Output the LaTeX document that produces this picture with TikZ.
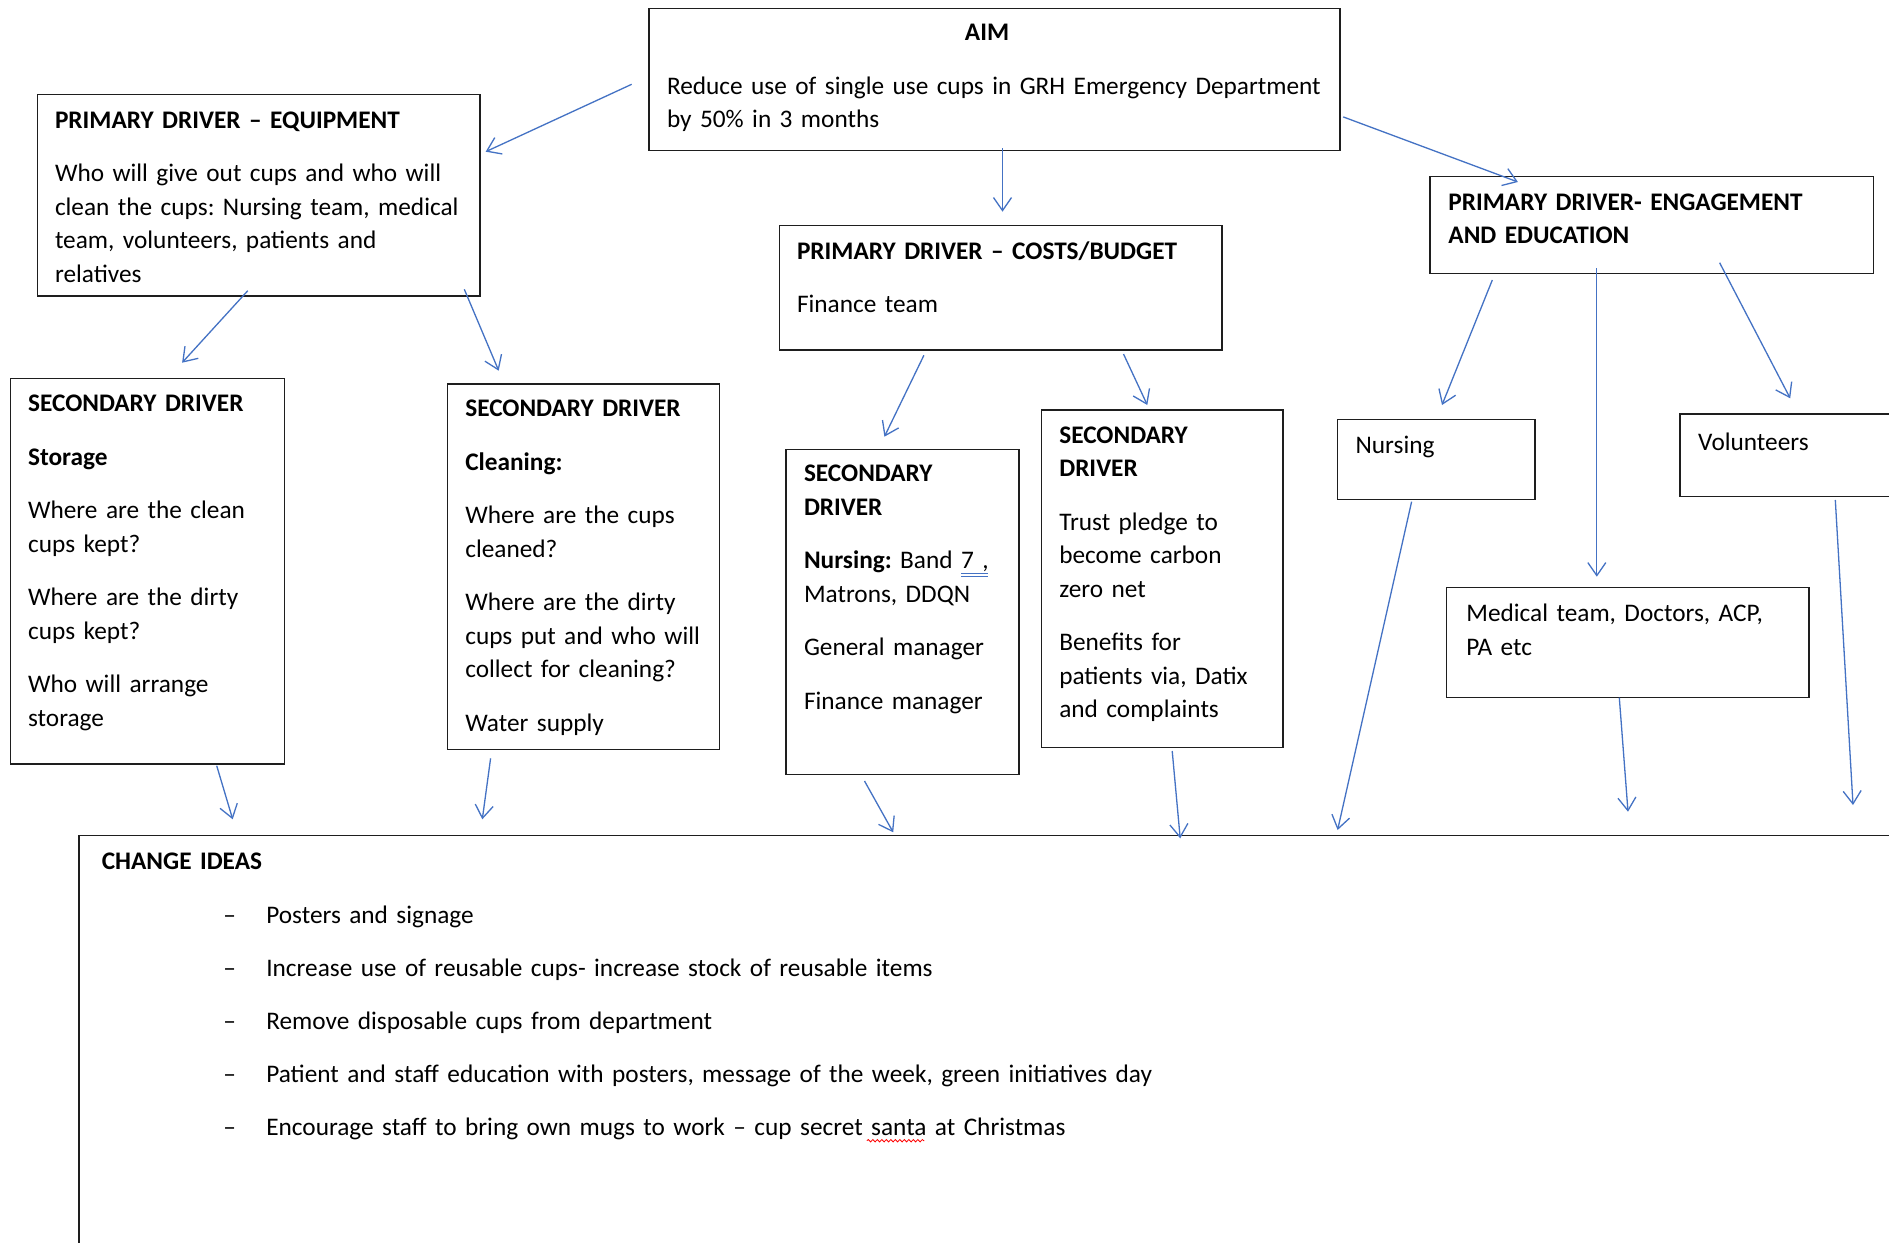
\documentclass[tikz,border=0pt]{standalone}
\usepackage{fontspec}
\setmainfont{Carlito}
\usetikzlibrary{arrows.meta,decorations.pathmorphing}
\definecolor{arrowblue}{HTML}{4472C4}
\definecolor{boxline}{HTML}{1E1E1E}
\setlength{\parindent}{0pt}
\frenchspacing
\newcommand{\firststrut}{\rule{0pt}{20pt}}
\begin{document}
\begin{tikzpicture}[x=1pt,y=-1pt,
  box/.style={draw=boxline, line width=1.5pt, anchor=north west, inner sep=0pt, outer sep=0pt},
  txt/.style={anchor=north west, inner sep=0pt, outer sep=0pt, align=left, text width=700pt, font=\fontsize{25.3}{33.5}\selectfont\frenchspacing},
  arr/.style={draw=arrowblue, line width=1.3pt, -{Straight Barb[length=13pt,width=18pt]}}]
\useasboundingbox (0,0) rectangle (1889,1242);
\fill[white] (0,0) rectangle (1889,1242);

% boxes
\node[box, minimum width=691pt, minimum height=142.2pt] (aim) at (649,8.4) {};
\node[box, minimum width=442.5pt, minimum height=201.5pt] (equip) at (37.5,94.7) {};
\node[box, minimum width=442.7pt, minimum height=124.7pt] (costs) at (779.3,225.3) {};
\node[box, minimum width=443.6pt, minimum height=96.6pt] (engage) at (1430,176.7) {};
\node[box, minimum width=273.8pt, minimum height=385.7pt] (storage) at (10.7,378.3) {};
\node[box, minimum width=271.9pt, minimum height=365.3pt] (cleaning) at (447.4,384) {};
\node[box, minimum width=233pt, minimum height=325pt] (secnurs) at (786,449.3) {};
\node[box, minimum width=241.5pt, minimum height=337.7pt] (trust) at (1041.3,410) {};
\node[box, minimum width=197.2pt, minimum height=80pt] (nursing) at (1337.6,419.3) {};
\node[box, minimum width=220pt, minimum height=82.7pt] (volunteers) at (1680.2,414) {};
\node[box, minimum width=362.5pt, minimum height=110.4pt] (medical) at (1446.5,587.3) {};
\node[box, minimum width=1830pt, minimum height=430pt] (change) at (78.8,835.7) {};

% texts
\node[anchor=base, inner sep=0pt, font=\fontsize{25.3}{33.5}\selectfont\bfseries] (aimtitle) at (987,40.7) {AIM};
\node[txt] (aimtxt) at (667,74) {\firststrut Reduce use of single use cups in GRH Emergency Department\\by 50\% in 3 months};
\node[txt] (equiptxt) at (55,108.3) {\firststrut\textbf{PRIMARY DRIVER – EQUIPMENT}\\[20pt]Who will give out cups and who will\\clean the cups: Nursing team, medical\\team, volunteers, patients and\\relatives};
\node[txt] (coststxt) at (797,239.3) {\firststrut\textbf{PRIMARY DRIVER – COSTS/BUDGET}\\[20pt]Finance team};
\node[txt] (engagetxt) at (1448.4,190) {\firststrut\textbf{PRIMARY DRIVER- ENGAGEMENT}\\\textbf{AND EDUCATION}};
\node[txt] (storagetxt) at (28.1,391.7) {\firststrut\textbf{SECONDARY DRIVER}\\[20pt]\textbf{Storage}\\[20pt]Where are the clean\\cups kept?\\[20pt]Where are the dirty\\cups kept?\\[20pt]Who will arrange\\storage};
\node[txt] (cleaningtxt) at (465.3,396.7) {\firststrut\textbf{SECONDARY DRIVER}\\[20pt]\textbf{Cleaning:}\\[20pt]Where are the cups\\cleaned?\\[20pt]Where are the dirty\\cups put and who will\\collect for cleaning?\\[20pt]Water supply};
\node[txt] (secnurstxt) at (804,461.7) {\firststrut\textbf{SECONDARY}\\\textbf{DRIVER}\\[20pt]\textbf{Nursing:} Band 7 ,\\Matrons, DDQN\\[20pt]General manager\\[20pt]Finance manager};
\node[txt] (trusttxt) at (1059.3,423.3) {\firststrut\textbf{SECONDARY}\\\textbf{DRIVER}\\[20pt]Trust pledge to\\become carbon\\zero net\\[20pt]Benefits for\\patients via, Datix\\and complaints};
\node[txt] (nursingtxt) at (1355.6,433.3) {\firststrut Nursing};
\node[txt] (volunteerstxt) at (1698.2,430) {\firststrut Volunteers};
\node[txt] (medicaltxt) at (1466.4,601.7) {\firststrut Medical team, Doctors, ACP,\\PA etc};
\node[txt] (changetitle) at (101.8,849.3) {\firststrut\textbf{CHANGE IDEAS}};
\node[txt, text width=1500pt] (changelist) at (223.4,903.3) {\firststrut\makebox[42.9pt][l]{–}Posters and signage\\[19.5pt]\makebox[42.9pt][l]{–}Increase use of reusable cups- increase stock of reusable items\\[19.5pt]\makebox[42.9pt][l]{–}Remove disposable cups from department\\[19.5pt]\makebox[42.9pt][l]{–}Patient and staff education with posters, message of the week, green initiatives day\\[19.5pt]\makebox[42.9pt][l]{–}Encourage staff to bring own mugs to work – cup secret santa at Christmas};

% proofing marks
\draw[arrowblue, line width=0.9pt] (961,573.3) -- (987.7,573.3);
\draw[arrowblue, line width=0.9pt] (961,576.7) -- (987.7,576.7);
\draw[red, line width=0.8pt, decorate, decoration={snake, amplitude=1.2pt, segment length=4.5pt}] (866.9,1140.7) -- (924.3,1140.7);

% arrow end points
\coordinate (a1s) at (631.7,84.3);   \coordinate (a1e) at (485.7,151.7);
\coordinate (a2s) at (1002.5,148.3); \coordinate (a2e) at (1002.5,211.7);
\coordinate (a3s) at (1343.2,116.9); \coordinate (a3e) at (1517.9,182);
\coordinate (a4s) at (247.8,290.7);  \coordinate (a4e) at (182.1,362.7);
\coordinate (a5s) at (464.3,289.3);  \coordinate (a5e) at (498.7,370.7);
\coordinate (a6s) at (923.9,355.3);  \coordinate (a6e) at (884.4,436.7);
\coordinate (a7s) at (1123.5,354);   \coordinate (a7e) at (1147.3,405);
\coordinate (a8s) at (1492.3,280);   \coordinate (a8e) at (1442,405);
\coordinate (a9s) at (1596.8,268.3); \coordinate (a9e) at (1596.8,576.7);
\coordinate (a10s) at (1719.6,262.7); \coordinate (a10e) at (1790.2,398.3);
\coordinate (a11s) at (216.7,765.7); \coordinate (a11e) at (232.7,819.3);
\coordinate (a12s) at (490.6,758.3); \coordinate (a12e) at (482.3,819.3);
\coordinate (a13s) at (864.5,781);   \coordinate (a13e) at (893.2,832.3);
\coordinate (a14s) at (1172.2,751);  \coordinate (a14e) at (1180.2,838.3);
\coordinate (a15s) at (1411.6,501.7); \coordinate (a15e) at (1337.6,830);
\coordinate (a16s) at (1619.3,697.7); \coordinate (a16e) at (1628,811.7);
\coordinate (a17s) at (1835.3,500);  \coordinate (a17e) at (1853,805);

\foreach \i in {1,...,17} { \draw[arr] (a\i s) -- (a\i e); }
\end{tikzpicture}
\end{document}
